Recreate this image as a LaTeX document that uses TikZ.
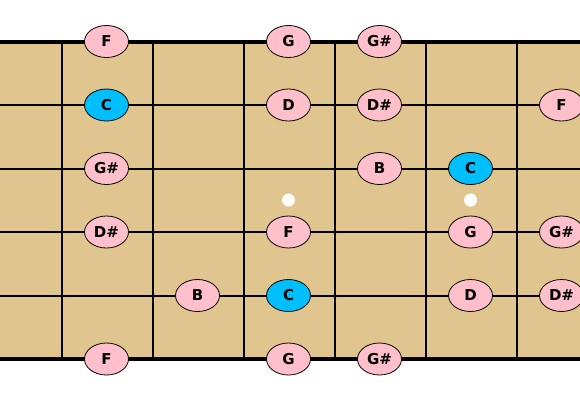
\documentclass[tikz,border=0pt]{standalone}
\usepackage{fontspec}
\setmainfont{DejaVu Sans}
\usetikzlibrary{shapes.geometric}
\definecolor{wood}{RGB}{224,197,143}
\definecolor{notepink}{RGB}{255,192,203}
\definecolor{rootblue}{RGB}{0,191,255}
\begin{document}
\begin{tikzpicture}[x=1pt,y=-1pt,
  note/.style={ellipse,draw=black,line width=0.8pt,fill=notepink,minimum width=44pt,minimum height=32pt,inner sep=0pt,font=\bfseries\fontsize{15}{15}\selectfont},
  root/.style={note,fill=rootblue},
  fretline/.style={line width=2.5pt},
  stringline/.style={line width=2pt},
  edgeline/.style={line width=4pt},
  inlay/.style={circle,fill=white,minimum size=13pt,inner sep=0pt}]
\useasboundingbox (0,0) rectangle (580,400);
\clip (0,0) rectangle (580,400);
\fill[wood] (0,41.5) rectangle (580,359);
% frets
\foreach \x [count=\i] in {62,153,244,335,426,517}{
  \coordinate (ft\i) at (\x,41.5);
  \coordinate (fb\i) at (\x,359);
  \draw[fretline] (ft\i) -- (fb\i);
}
% strings
\foreach \y [count=\i] in {41.5,105,168.5,232,295.5,359}{
  \coordinate (sl\i) at (0,\y);
  \coordinate (sr\i) at (580,\y);
}
\draw[edgeline] (sl1) -- (sr1);
\draw[edgeline] (sl6) -- (sr6);
\foreach \i in {2,3,4,5}{\draw[stringline] (sl\i) -- (sr\i);}
% inlays
\node[inlay] (dot1) at (288.5,200) {};
\node[inlay] (dot2) at (470.5,200) {};
% notes
\node[note] (n11) at (106.5,41.5) {F};
\node[note] (n13) at (288.5,41.5) {G};
\node[note] (n14) at (379.5,41.5) {G\#};
\node[root] (n21) at (106.5,105) {C};
\node[note] (n23) at (288.5,105) {D};
\node[note] (n24) at (379.5,105) {D\#};
\node[note] (n26) at (561.5,105) {F};
\node[note] (n31) at (106.5,168.5) {G\#};
\node[note] (n34) at (379.5,168.5) {B};
\node[root] (n35) at (470.5,168.5) {C};
\node[note] (n41) at (106.5,232) {D\#};
\node[note] (n43) at (288.5,232) {F};
\node[note] (n45) at (470.5,232) {G};
\node[note] (n46) at (561.5,232) {G\#};
\node[note] (n52) at (197.5,295.5) {B};
\node[root] (n53) at (288.5,295.5) {C};
\node[note] (n55) at (470.5,295.5) {D};
\node[note] (n56) at (561.5,295.5) {D\#};
\node[note] (n61) at (106.5,359) {F};
\node[note] (n63) at (288.5,359) {G};
\node[note] (n64) at (379.5,359) {G\#};
\end{tikzpicture}
\end{document}
